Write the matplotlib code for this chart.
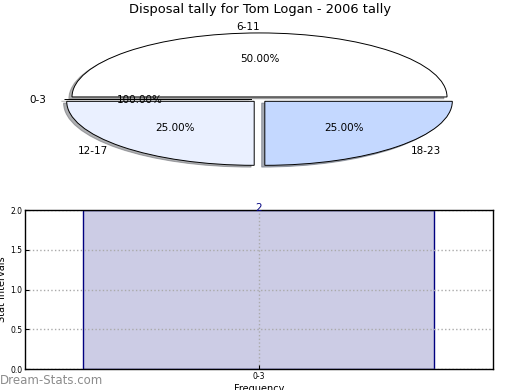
import matplotlib
matplotlib.use("Agg")
import matplotlib.pyplot as plt

# ---- data ----
title = "Disposal tally for Tom Logan - 2006 tally"
pie_labels = ["6-11", "0-3", "12-17", "18-23"]
pie_values = [2, 0, 1, 1]
pie_pct_texts = ["50.00%", "100.00%", "25.00%", "25.00%"]
pie_colors = ["#ffffff", "#ffffff", "#eaf0ff", "#c4d8ff"]

bar_categories = ["0-3"]
bar_values = [2]
y_ticks = [0.0, 0.5, 1.0, 1.5, 2.0]

fig = plt.figure(figsize=(5.2, 3.9), dpi=100)

# ---- pie ----
ax1 = fig.add_axes([0.0303, 0.5315, 0.9375, 0.4267])
_pct_iter = iter(pie_pct_texts)
wedges, texts, autotexts = ax1.pie(
    pie_values, labels=pie_labels, colors=pie_colors,
    explode=[0.04] * len(pie_values),
    shadow=dict(ox=-0.012, oy=-0.02, shade=0.6),
    startangle=0,
    autopct=lambda p: next(_pct_iter),
    wedgeprops=dict(edgecolor="black", linewidth=0.7),
    textprops=dict(fontsize=7.5),
)
ax1.set_aspect("auto")
ax1.set_xlim(-1.3, 1.3)
ax1.set_ylim(-1.3, 1.3)
ax1.axis("off")
fig.text(0.5, 1 - 10 / 390, title, ha="center", va="center", fontsize=9.4)

# ---- bar ----
ax2 = fig.add_axes([0.048, 0.0538, 0.9, 0.4077])
xs = list(range(len(bar_categories)))
bars = ax2.bar(xs, bar_values, width=0.75, color=(0, 0, 0.5, 0.2),
               edgecolor="navy", linewidth=1.0, zorder=1)
for x, v in zip(xs, bar_values):
    ax2.annotate(str(v), (x, v), xytext=(0, -2.5), textcoords="offset points",
                 ha="center", va="bottom", color="navy", fontsize=7.5)
ax2.set_xlim(-0.5, len(bar_categories) - 0.5)
ax2.set_ylim(0, 2.0)
ax2.set_yticks(y_ticks)
ax2.set_yticklabels([f"{t:.1f}" for t in y_ticks])
ax2.set_xticks(xs)
ax2.set_xticklabels(bar_categories)
ax2.tick_params(axis="both", labelsize=5.5, direction="in", length=3, pad=2)
ax2.set_axisbelow("line")
ax2.grid(True, linestyle=":", color="#aaaaaa", linewidth=1.0)
for s in ax2.spines.values():
    s.set_linewidth(1.0)
ax2.set_ylabel("Stat Intervals", fontsize=7, labelpad=2)
ax2.set_xlabel("Frequency", fontsize=7, labelpad=2)

fig.text(0.0, 1 - 381 / 390, "Dream-Stats.com", ha="left", va="center",
         fontsize=8.5, color="#8c8c8c")

fig.savefig("out.png", dpi=100)
